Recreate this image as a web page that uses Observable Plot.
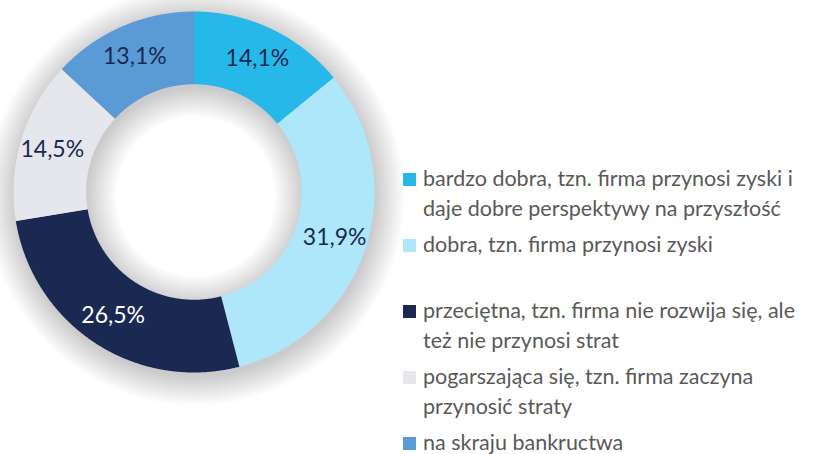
<!DOCTYPE html>
<html>
<head>
<meta charset="utf-8">
<script src="https://cdn.jsdelivr.net/npm/d3@7"></script>
<script src="https://cdn.jsdelivr.net/npm/@observablehq/plot@0.6"></script>
<style>
  html, body { margin: 0; padding: 0; background: #fff; }
  #wrap { position: relative; width: 816px; height: 454px; overflow: hidden; font-family: Lato, "Open Sans", sans-serif; }
  #legend { position: absolute; left: 403px; top: 164px; width: 413px; }
  .item { position: relative; height: 66px; }
  .sw { position: absolute; left: 0; top: 9px; width: 13px; height: 13px; }
  .tx { position: absolute; left: 20px; top: 0; font-size: 21.5px; line-height: 29.5px; color: #595959; white-space: nowrap; }
</style>
</head>
<body>
<div id="wrap"><div id="chart"></div><div id="legend"></div></div>
<script>
const categories = [
  "bardzo dobra, tzn. firma przynosi zyski i daje dobre perspektywy na przyszłość",
  "dobra, tzn. firma przynosi zyski",
  "przeciętna, tzn. firma nie rozwija się, ale też nie przynosi strat",
  "pogarszająca się, tzn. firma zaczyna przynosić straty",
  "na skraju bankructwa"
];
const legendLines = [
  ["bardzo dobra, tzn. firma przynosi zyski i", "daje dobre perspektywy na przyszłość"],
  ["dobra, tzn. firma przynosi zyski"],
  ["przeciętna, tzn. firma nie rozwija się, ale", "też nie przynosi strat"],
  ["pogarszająca się, tzn. firma zaczyna", "przynosić straty"],
  ["na skraju bankructwa"]
];
const values = [14.1, 31.9, 26.5, 14.5, 13.1];
const colors = ["#27B8EA", "#AEE7FA", "#1A2952", "#E6E7EC", "#5B9BD5"];

const innerRatio = 0.597;
const labelRatio = 0.82;

const pie = d3.pie().sort(null).value(d => d.value);
const arcs = pie(categories.map((c, i) => ({cat: c, value: values[i]})));

// annular sector as a closed polygon (outer arc forward, inner arc back)
function sector(key, a0, a1, r0, r1, cx, cy) {
  const out = [];
  const n = Math.max(4, Math.ceil((a1 - a0) / 0.005));
  for (let k = 0; k <= n; k++) {
    const t = a0 + (a1 - a0) * k / n;
    out.push({key, x: cx + r1 * Math.sin(t), y: cy + r1 * Math.cos(t)});
  }
  for (let k = n; k >= 0; k--) {
    const t = a0 + (a1 - a0) * k / n;
    out.push({key, x: cx + r0 * Math.sin(t), y: cy + r0 * Math.cos(t)});
  }
  return out;
}

const pts = arcs.flatMap(a => sector(a.data.cat, a.startAngle, a.endAngle, innerRatio, 1, 0, 0));

// soft shadow: stacked translucent rings that spread out from the ring
const shadowLayers = 26, spreadStep = 0.0064;
const shadowPts = d3.range(shadowLayers).flatMap(k =>
  sector("s" + k, 0, 2 * Math.PI, innerRatio - k * spreadStep, 1 + k * spreadStep, 0.008, -0.024));

const labelData = arcs.map(a => {
  const m = (a.startAngle + a.endAngle) / 2;
  return {cat: a.data.cat, x: labelRatio * Math.sin(m), y: labelRatio * Math.cos(m),
          text: a.data.value.toFixed(1).replace(".", ",") + "%"};
});
const dark = categories[2];

const chart = Plot.plot({
  width: 816, height: 454, margin: 0,
  x: {domain: [-1, 1], range: [13, 374], axis: null},
  y: {domain: [-1, 1], range: [372, 11], axis: null},
  color: {domain: categories, range: colors},
  style: {background: "transparent", overflow: "visible"},
  marks: [
    Plot.line(shadowPts, {x: "x", y: "y", z: "key", fill: "#000", fillOpacity: 0.0068, stroke: "none", curve: "linear-closed"}),
    Plot.line(pts, {x: "x", y: "y", z: "key", fill: "key", stroke: "none", curve: "linear-closed"}),
    Plot.text(labelData.filter(d => d.cat !== dark), {x: "x", y: "y", text: "text", fill: "#1A2952", fontSize: 23, fontFamily: "Lato, sans-serif"}),
    Plot.text(labelData.filter(d => d.cat === dark), {x: "x", y: "y", text: "text", fill: "#ffffff", fontSize: 23, fontFamily: "Lato, sans-serif"})
  ]
});
document.getElementById("chart").appendChild(chart);

const legend = document.getElementById("legend");
categories.forEach((c, i) => {
  const item = document.createElement("div");
  item.className = "item";
  const sw = document.createElement("div");
  sw.className = "sw"; sw.style.background = colors[i];
  const tx = document.createElement("div");
  tx.className = "tx"; tx.innerHTML = legendLines[i].join("<br>");
  item.appendChild(sw); item.appendChild(tx);
  legend.appendChild(item);
});
</script>
</body>
</html>
